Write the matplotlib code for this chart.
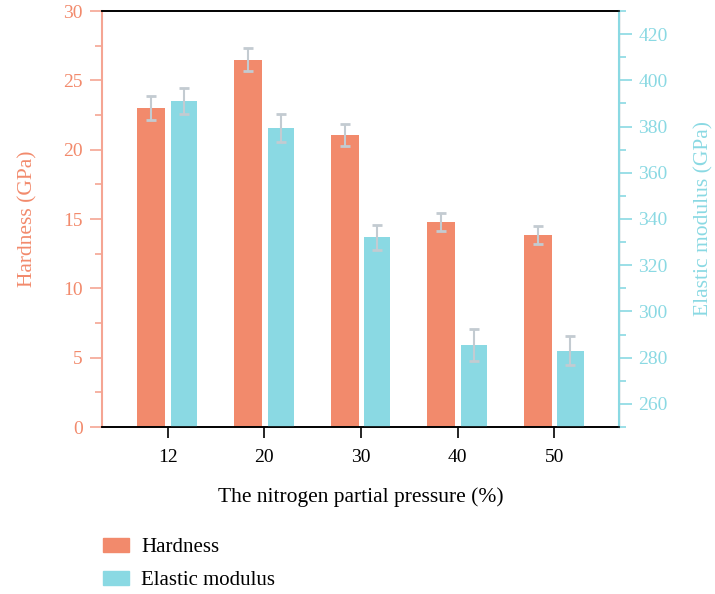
import matplotlib
matplotlib.use("Agg")
import matplotlib.pyplot as plt
import numpy as np
from matplotlib.patches import Patch
from matplotlib.ticker import MultipleLocator

plt.rcParams['font.family'] = ['Liberation Serif', 'DejaVu Serif']

# nitrogen partial pressure groups
pressure = ['12', '20', '30', '40', '50']
hardness = [23.0, 26.5, 21.05, 14.8, 13.85]
hardness_err = [0.85, 0.85, 0.8, 0.65, 0.65]
modulus = [391.0, 379.5, 332.0, 285.5, 283.0]
modulus_err = [5.5, 6.0, 5.5, 7.0, 6.3]

c_hard = '#F28A6C'
c_hard_axis = '#F5A593'
c_mod = '#8AD9E3'
c_err = '#C3CBD1'

fig = plt.figure(figsize=(7.15, 5.94), dpi=100)
ax = fig.add_axes([102 / 715, 1 - 427 / 594, 517 / 715, 416 / 594])
ax2 = ax.twinx()

x = np.arange(len(pressure))
w = 0.29
off = 0.168

ax.bar(x - off, hardness, w, color=c_hard, zorder=2)
ax.errorbar(x - off, hardness, yerr=hardness_err, fmt='none', ecolor=c_err,
            elinewidth=1.5, capsize=3.5, capthick=2, zorder=3)
ax2.bar(x + off, modulus, w * 0.93, color=c_mod, zorder=2)
ax2.errorbar(x + off, modulus, yerr=modulus_err, fmt='none', ecolor=c_err,
             elinewidth=1.5, capsize=3.5, capthick=2, zorder=3)

ax.set_xlim(-0.68, 4.67)
ax.set_ylim(0, 30)
ax2.set_ylim(250, 430)

ax.set_xticks(x)
ax.set_xticklabels(pressure, fontsize=14)
ax.yaxis.set_major_locator(MultipleLocator(5))
ax.yaxis.set_minor_locator(MultipleLocator(2.5))
ax2.set_yticks(np.arange(260, 421, 20))
ax2.yaxis.set_minor_locator(MultipleLocator(10))

ax.tick_params(axis='x', direction='out', length=8, width=1.2, colors='black', pad=8)
ax.tick_params(axis='y', which='major', direction='out', length=9, width=1.2,
               color=c_hard_axis, labelcolor=c_hard, labelsize=14, pad=5)
ax.tick_params(axis='y', which='minor', direction='out', length=5, width=1.2,
               color=c_hard_axis)
ax2.tick_params(axis='y', which='major', direction='out', length=9, width=1.2,
                color=c_mod, labelcolor=c_mod, labelsize=14, pad=5)
ax2.tick_params(axis='y', which='minor', direction='out', length=5, width=1.2,
                color=c_mod)

for a in (ax, ax2):
    a.spines['top'].set_color('black')
    a.spines['bottom'].set_color('black')
    a.spines['top'].set_linewidth(1.2)
    a.spines['bottom'].set_linewidth(1.2)
ax.spines['left'].set_color(c_hard_axis)
ax.spines['left'].set_linewidth(1.5)
ax2.spines['left'].set_visible(False)
ax2.spines['right'].set_color(c_mod)
ax2.spines['right'].set_linewidth(1.5)

ax.set_ylabel('Hardness (GPa)', color=c_hard, fontsize=15.5, labelpad=18)
ax2.set_ylabel('Elastic modulus (GPa)', color=c_mod, fontsize=15.5, labelpad=19)
ax.set_xlabel('The nitrogen partial pressure (%)', fontsize=15.5, labelpad=15)

handles = [Patch(color=c_hard, label='Hardness'),
           Patch(color=c_mod, label='Elastic modulus')]
fig.legend(handles=handles, loc='upper left', bbox_to_anchor=(103 / 715, 1 - 538 / 594),
           frameon=False, fontsize=15, handlelength=1.25, handleheight=0.63,
           labelspacing=0.68, handletextpad=0.58, borderpad=0, borderaxespad=0)

fig.savefig('out.png', dpi=100)
